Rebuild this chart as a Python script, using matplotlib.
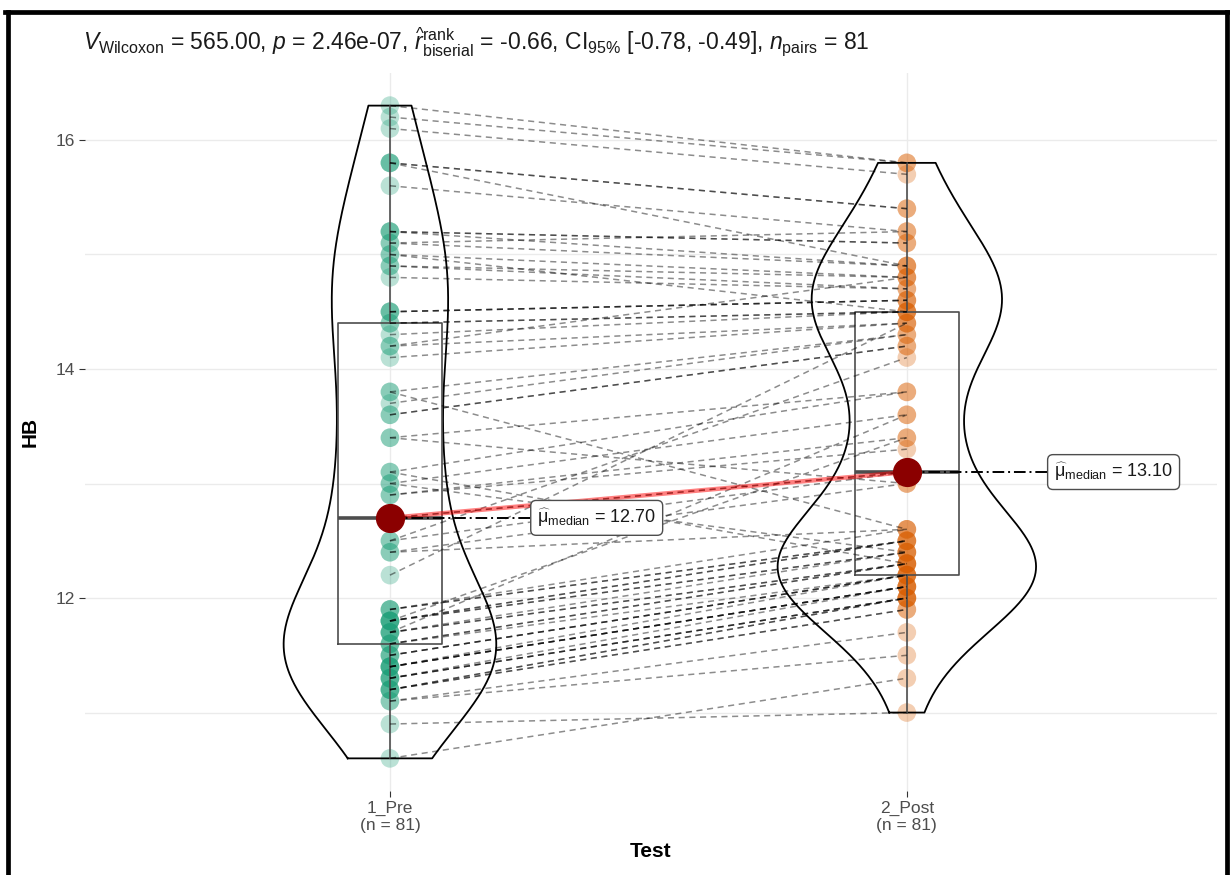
import numpy as np
import matplotlib.pyplot as plt
from matplotlib.lines import Line2D

plt.rcParams['font.family'] = ['Liberation Sans', 'DejaVu Sans']
plt.rcParams['mathtext.fontset'] = 'custom'
plt.rcParams['mathtext.rm'] = 'Liberation Sans'
plt.rcParams['mathtext.it'] = 'Liberation Sans:italic'
plt.rcParams['mathtext.bf'] = 'Liberation Sans:bold'

# paired HB values, pre and post (same subject at the same index)
groups = ['1_Pre', '2_Post']
pre = [10.6, 10.9, 11.1, 11.1, 11.2, 11.2, 11.2, 11.2, 11.3, 11.3,
       11.3, 11.3, 11.4, 11.4, 11.4, 11.4, 11.4, 11.5, 11.5, 11.5,
       11.6, 11.6, 11.6, 11.7, 11.7, 11.7, 11.7, 11.8, 11.8, 11.8,
       11.8, 11.8, 11.9, 11.9, 11.9, 12.2, 12.4, 12.4, 12.5, 12.5,
       12.7, 12.7, 12.9, 12.9, 13.0, 13.0, 13.1, 13.1, 13.4, 13.4,
       13.6, 13.6, 13.7, 13.8, 13.8, 14.1, 14.2, 14.2, 14.3, 14.4,
       14.4, 14.5, 14.5, 14.5, 14.8, 14.9, 14.9, 15.0, 15.0, 15.1,
       15.1, 15.2, 15.2, 15.2, 15.6, 15.8, 15.8, 15.8, 16.1, 16.2, 16.3]
post = [11.3, 11.0, 11.5, 11.7, 11.9, 11.9, 12.0, 12.0, 12.0, 12.0,
        12.0, 12.1, 12.1, 12.1, 12.1, 12.1, 12.2, 12.2, 12.2, 12.2,
        12.2, 12.3, 12.3, 12.3, 13.6, 12.3, 12.4, 12.4, 12.4, 13.4,
        12.5, 12.5, 12.5, 12.5, 12.6, 14.4, 12.6, 13.0, 14.1, 13.1,
        13.1, 13.1, 13.3, 13.4, 12.4, 13.6, 12.3, 13.8, 13.8, 13.0,
        14.2, 14.2, 14.3, 14.3, 12.6, 14.4, 14.4, 14.8, 14.5, 14.5,
        14.5, 14.6, 14.6, 14.6, 14.7, 14.7, 14.8, 14.5, 14.8, 15.2,
        14.9, 14.9, 15.1, 15.1, 15.2, 14.9, 15.4, 15.4, 15.7, 15.8, 15.8]
colors = ['#1B9E77', '#D95F02']

subtitle = (r'$V_{\mathrm{Wilcoxon}}$ = 565.00, $p$ = 2.46e-07, '
            r'$\widehat{r}_{\mathrm{biserial}}^{\mathrm{rank}}$ = -0.66, '
            r'CI$_{95\%}$ [-0.78, -0.49], $n_{\mathrm{pairs}}$ = 81')


def kde(vals, grid):
    v = np.asarray(vals)
    n = len(v)
    iqr = np.subtract(*np.percentile(v, [75, 25]))
    bw = 0.9 * min(v.std(ddof=1), iqr / 1.34) * n ** -0.2
    z = (grid[:, None] - v[None, :]) / bw
    return np.exp(-0.5 * z ** 2).sum(1) / (n * bw * np.sqrt(2 * np.pi))


data = [np.array(pre), np.array(post)]
pos = [1, 2]

fig = plt.figure(figsize=(12.3, 8.75), dpi=100)
ax = fig.add_axes([0.0691, 0.096, 0.9203, 0.8206])

# violins (area scaled, trimmed)
grids = [np.linspace(d.min(), d.max(), 512) for d in data]
dens = [kde(d, g) for d, g in zip(data, grids)]
dmax = max(d.max() for d in dens)
for p, g, d in zip(pos, grids, dens):
    w = d / dmax * 0.25
    xs = np.concatenate([p - w, (p + w)[::-1], [p - w[0]]])
    ys = np.concatenate([g, g[::-1], [g[0]]])
    ax.plot(xs, ys, color='black', lw=1.3, zorder=3)

# boxplots
ax.boxplot(data, positions=pos, widths=0.2, showfliers=False, showcaps=False,
           manage_ticks=False, patch_artist=False,
           boxprops=dict(color='#4d4d4d', lw=1.2),
           whiskerprops=dict(color='#4d4d4d', lw=1.2),
           medianprops=dict(color='#4d4d4d', lw=2.6), zorder=3)

# points
for p, d, c in zip(pos, data, colors):
    ax.scatter(np.full(len(d), p), d, s=180, color=c, alpha=0.3,
               edgecolors='none', zorder=2)

# paired lines
for a, b in zip(pre, post):
    ax.plot([1, 2], [a, b], color='black', alpha=0.45, lw=1.1,
            ls=(0, (4, 3)), zorder=4)

# medians
meds = [np.median(d) for d in data]
ax.plot(pos, meds, color='red', alpha=0.5, lw=3.2, zorder=5)
ax.scatter(pos, meds, s=400, color='#8B0000', zorder=6)
for p, m in zip(pos, meds):
    ax.plot([p, p + 0.4], [m, m], color='black', lw=1.4,
            ls=(0, (6, 2, 1, 2)), zorder=5)
    ax.text(p + 0.4, m,
            r'$\widehat{\mathrm{\mu}}_{\mathrm{median}}$ = ' + f'{m:.2f}',
            ha='center', va='center', fontsize=13, color='#1a1a1a', zorder=7,
            bbox=dict(boxstyle='round,pad=0.35,rounding_size=0.3',
                      fc='white', ec='#4d4d4d', lw=1.0))

ax.set_xlim(0.41, 2.60)
ax.set_ylim(10.315, 16.585)
ax.set_yticks([12, 14, 16])
ax.set_yticks([11, 13, 15], minor=True)
ax.set_xticks(pos)
ax.set_xticklabels([f'{g}\n(n = {len(d)})' for g, d in zip(groups, data)])
ax.grid(True, which='both', color='#ebebeb', lw=1.0, zorder=0)
ax.set_axisbelow(True)
ax.tick_params(which='major', length=4, color='#333333', labelsize=12.5,
               labelcolor='#4d4d4d', pad=3)
ax.tick_params(which='minor', length=0)
for s in ax.spines.values():
    s.set_visible(False)
ax.set_ylabel('HB', fontsize=15, fontweight='bold', labelpad=12)
ax.set_xlabel('Test', fontsize=15, fontweight='bold', labelpad=6)

fig.text(83 / 1230, 1 - 42 / 875, subtitle, fontsize=16.5, ha='left',
         va='center', color='#1a1a1a')

# outer frame
lw = 3.4
fig.add_artist(Line2D([7.5 / 1230, 7.5 / 1230], [0, 1 - 12 / 875],
                      color='black', lw=lw))
fig.add_artist(Line2D([5 / 1230, 1229 / 1230], [1 - 12 / 875, 1 - 12 / 875],
                      color='black', lw=lw))
fig.add_artist(Line2D([1226.5 / 1230, 1226.5 / 1230], [0, 1 - 12 / 875],
                      color='black', lw=lw))

fig.savefig('out.png', dpi=100)
